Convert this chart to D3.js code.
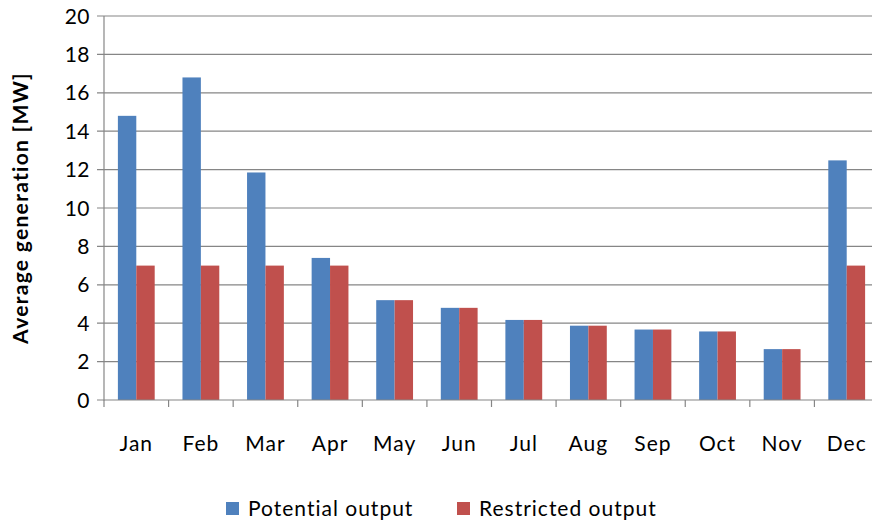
<!DOCTYPE html>
<html>
<head>
<meta charset="utf-8">
<script src="https://cdn.jsdelivr.net/npm/d3@7"></script>
<style>
  body { margin: 0; background: #fff; }
  svg { display: block; font-family: Lato, "Open Sans", sans-serif; }
</style>
</head>
<body>
<svg id="chart" width="872" height="522"></svg>
<script>
'use strict';

var months = ['Jan', 'Feb', 'Mar', 'Apr', 'May', 'Jun', 'Jul', 'Aug', 'Sep', 'Oct', 'Nov', 'Dec'];
var potential = [14.8, 16.8, 11.85, 7.4, 5.2, 4.8, 4.17, 3.87, 3.67, 3.57, 2.65, 12.48];
var restricted = [7.0, 7.0, 7.0, 7.0, 5.2, 4.8, 4.17, 3.87, 3.67, 3.57, 2.65, 7.0];
var seriesNames = ['Potential output', 'Restricted output'];
var colors = ['#4f81bd', '#c0504d'];
var yTicks = [0, 2, 4, 6, 8, 10, 12, 14, 16, 18, 20];

var svg = d3.select('#chart');
var plotLeft = 104, plotRight = 879, plotTop = 16, plotBottom = 400;

var x = d3.scaleBand().domain(months).range([plotLeft, plotRight]).paddingInner(0.43).paddingOuter(0.215);
var xGroup = d3.scaleBand().domain(months).range([plotLeft, plotRight]);
var xSub = d3.scaleBand().domain([0, 1]).range([0, x.bandwidth()]);
var y = d3.scaleLinear().domain([0, 20]).range([plotBottom, plotTop]);

// gridlines
svg.append('g').selectAll('line').data(yTicks.slice(1)).enter().append('line')
  .attr('x1', plotLeft - 7).attr('x2', 872)
  .attr('y1', function (d) { return y(d); })
  .attr('y2', function (d) { return y(d); })
  .attr('stroke', '#868686').attr('stroke-width', 1.2);

// bars
var data = months.map(function (m, i) { return {month: m, vals: [potential[i], restricted[i]]}; });
var groups = svg.append('g').selectAll('g').data(data).enter().append('g')
  .attr('transform', function (d) { return 'translate(' + x(d.month) + ',0)'; });
groups.selectAll('rect').data(function (d) { return d.vals; }).enter().append('rect')
  .attr('x', function (d, i) { return xSub(i); })
  .attr('width', xSub.bandwidth())
  .attr('y', function (d) { return y(d); })
  .attr('height', function (d) { return y(0) - y(d); })
  .attr('fill', function (d, i) { return colors[i]; });

// axes lines
svg.append('line').attr('x1', plotLeft).attr('x2', plotLeft).attr('y1', plotTop).attr('y2', plotBottom + 0.5)
  .attr('stroke', '#868686').attr('stroke-width', 1.2);
svg.append('line').attr('x1', plotLeft - 7).attr('x2', 872).attr('y1', plotBottom).attr('y2', plotBottom)
  .attr('stroke', '#868686').attr('stroke-width', 1.2);
svg.append('g').selectAll('text').data(yTicks).enter().append('text')
  .attr('x', plotLeft - 14).attr('y', function (d) { return y(d); })
  .attr('dy', '0.36em').attr('text-anchor', 'end')
  .attr('font-size', 21).attr('letter-spacing', 0.5).attr('fill', '#000')
  .text(function (d) { return d; });

// x ticks
svg.append('g').selectAll('line').data(months).enter().append('line')
  .attr('x1', function (d) { return xGroup(d); })
  .attr('x2', function (d) { return xGroup(d); })
  .attr('y1', plotBottom).attr('y2', plotBottom + 7)
  .attr('stroke', '#868686').attr('stroke-width', 1.2);
svg.append('g').selectAll('text').data(months).enter().append('text')
  .attr('x', function (d) { return xGroup(d) + xGroup.bandwidth() / 2; })
  .attr('y', 451).attr('text-anchor', 'middle')
  .attr('font-size', 21).attr('letter-spacing', 1).attr('fill', '#000')
  .text(function (d) { return d; });

// y title
svg.append('text').attr('transform', 'translate(28,' + ((plotTop + plotBottom) / 2) + ') rotate(-90)')
  .attr('text-anchor', 'middle').attr('font-size', 21).attr('font-weight', 'bold')
  .attr('letter-spacing', 1.3)
  .text('Average generation  [MW]');

// legend
var legendX = [226, 457];
var legend = svg.append('g').selectAll('g').data(seriesNames).enter().append('g')
  .attr('transform', function (d, i) { return 'translate(' + legendX[i] + ',502)'; });
legend.append('rect').attr('width', 13).attr('height', 13)
  .attr('fill', function (d, i) { return colors[i]; });
legend.append('text').attr('x', 22).attr('y', 14).attr('font-size', 21)
  .attr('letter-spacing', 1)
  .text(function (d) { return d; });
</script>
</body>
</html>
